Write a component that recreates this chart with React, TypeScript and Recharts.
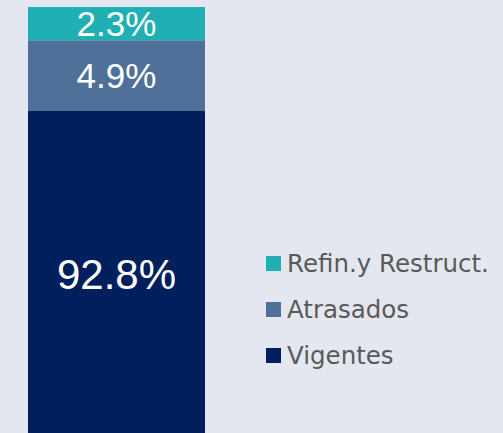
import { Bar, BarChart, LabelList, XAxis, YAxis } from "recharts";

const categories = ["Cartera"];
const seriesNames = ["Vigentes", "Atrasados", "Refin.y Restruct."];
const vigentes = [92.8];
const atrasados = [4.9];
const refinanciados = [2.3];

const colors = ["#001f5c", "#4f7199", "#20b0b4"];
const keys = ["vigentes", "atrasados", "refin"];

const data = categories.map((name, i) => ({
  name,
  vigentes: vigentes[i],
  atrasados: atrasados[i],
  refin: refinanciados[i],
}));

const VIEW_H = 433;

// label centred in the part of the segment that is visible in the frame
function SegmentLabel(props: any) {
  const { x, y, width, height, value } = props;
  const top = Math.max(y, 0);
  const bottom = Math.min(y + height, VIEW_H);
  const cy = (top + bottom) / 2 + (value > 50 ? 2 : 0);
  return (
    <text
      x={x + width / 2}
      y={cy}
      fill="#ffffff"
      textAnchor="middle"
      dominantBaseline="central"
      fontSize={value > 50 ? 42 : 35}
      fontFamily="'Liberation Sans', Arial, sans-serif"
    >
      {value.toFixed(1)}%
    </text>
  );
}

export default function App() {
  const legendItems = seriesNames.map((name, i) => ({ name, color: colors[i] })).reverse();
  return (
    <div
      style={{
        position: "fixed",
        top: 0,
        left: 0,
        width: 503,
        height: VIEW_H,
        overflow: "hidden",
        background: "#e4e7ef",
      }}
    >
      <BarChart
        width={503}
        height={1452}
        data={data}
        margin={{ top: 7, right: 298, bottom: 0, left: 28 }}
        barCategoryGap={0}
      >
        <XAxis dataKey="name" hide />
        <YAxis hide domain={[0, 100]} />
        {keys.map((k, i) => (
          <Bar key={k} dataKey={k} name={seriesNames[i]} stackId="a" fill={colors[i]} isAnimationActive={false}>
            <LabelList dataKey={k} content={SegmentLabel} />
          </Bar>
        ))}
      </BarChart>
      <div
        style={{
          position: "absolute",
          left: 266,
          top: 240,
          fontFamily: "'DejaVu Sans', sans-serif",
          fontSize: 24.5,
          color: "#595959",
        }}
      >
        {legendItems.map((it) => (
          <div key={it.name} style={{ display: "flex", alignItems: "center", height: 46, whiteSpace: "nowrap" }}>
            <span style={{ width: 15, height: 15, background: it.color, marginRight: 6, display: "inline-block", flexShrink: 0 }} />
            <span>{it.name}</span>
          </div>
        ))}
      </div>
    </div>
  );
}
